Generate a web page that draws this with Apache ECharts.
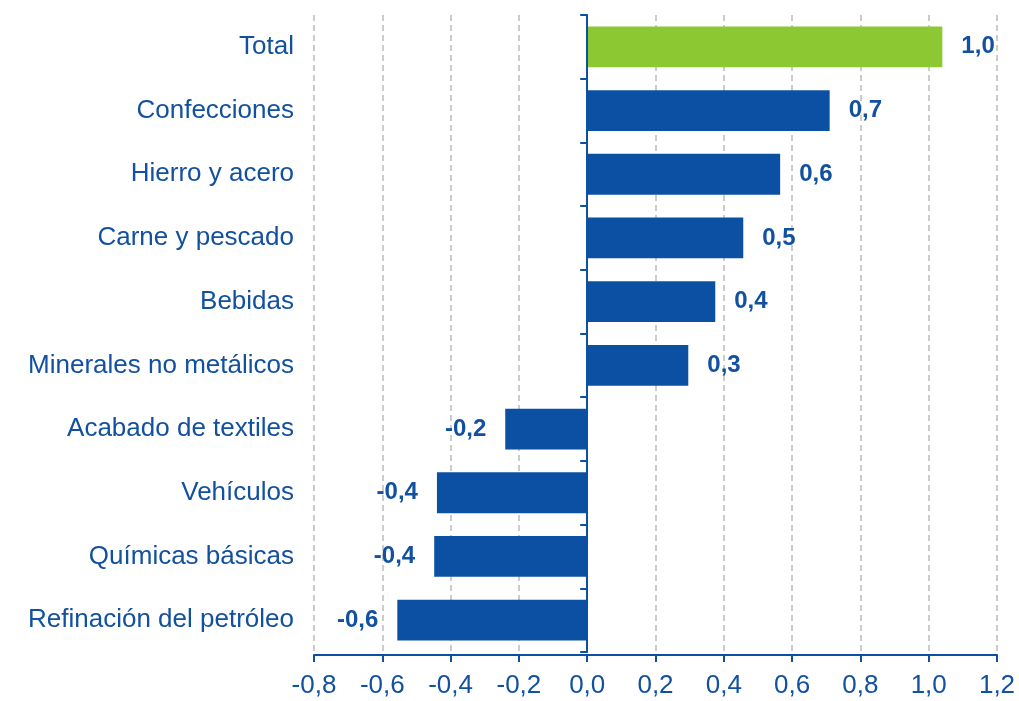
<!DOCTYPE html>
<html>
<head>
<meta charset="utf-8">
<script src="https://cdn.jsdelivr.net/npm/echarts@6/dist/echarts.min.js"></script>
<style>
html,body{margin:0;padding:0;background:#fff;}
#main{width:1019px;height:701px;}
</style>
</head>
<body>
<div id="main"></div>
<script>
var categories=['Total','Confecciones','Hierro y acero','Carne y pescado','Bebidas','Minerales no metálicos','Acabado de textiles','Vehículos','Químicas básicas','Refinación del petróleo'];
var values=[1.04,0.71,0.565,0.457,0.375,0.296,-0.24,-0.44,-0.448,-0.556];
var xTicks=[-0.8,-0.6,-0.4,-0.2,0,0.2,0.4,0.6,0.8,1.0,1.2];

var blue='#0B50A3';
var green='#8CC832';
var textBlue='#1250A0';

function fmt(v){
	return v.toFixed(1).replace('.',',');
}

var myChart=echarts.init(document.getElementById('main'));

var barData=[];
for(var i=0;i<values.length;i++){
	barData.push({
		value:values[i],
		itemStyle:{color:i==0?green:blue},
		label:{position:values[i]<0?'left':'right'}
	});
}

myChart.setOption({
	animation:false,
	grid:{left:314,right:22,top:15,bottom:49,containLabel:false},
	xAxis:{
		type:'value',
		min:xTicks[0],
		max:xTicks[xTicks.length-1],
		interval:0.2,
		offset:3,
		axisLine:{show:true,onZero:false,lineStyle:{color:blue,width:2}},
		axisTick:{show:true,length:7,lineStyle:{color:blue,width:2}},
		axisLabel:{
			color:textBlue,fontSize:26,fontFamily:'Liberation Sans',margin:18,
			formatter:function(v){return fmt(Math.round(v*10)/10);}
		},
		splitLine:{show:true,lineStyle:{color:'#cccccc',type:[6,4],width:2}}
	},
	yAxis:[{
		type:'category',
		data:categories,
		inverse:true,
		position:'left',
		axisLine:{show:false,onZero:false},
		axisTick:{show:false},
		axisLabel:{color:textBlue,fontSize:26,fontFamily:'Liberation Sans',margin:20}
	},{
		type:'category',
		data:categories,
		inverse:true,
		position:'left',
		z:3,
		axisLine:{show:true,onZero:true,onZeroAxisIndex:0,lineStyle:{color:blue,width:2}},
		axisTick:{show:true,length:7,lineStyle:{color:blue,width:2}},
		axisLabel:{show:false}
	}],
	series:[{
		type:'bar',
		yAxisIndex:0,
		barWidth:'64%',
		data:barData,
		label:{
			show:true,
			distance:19,
			color:textBlue,
			fontSize:24,
			fontWeight:'bold',
			fontFamily:'Liberation Sans',
			formatter:function(p){return fmt(p.value);}
		}
	}]
});
</script>
</body>
</html>
